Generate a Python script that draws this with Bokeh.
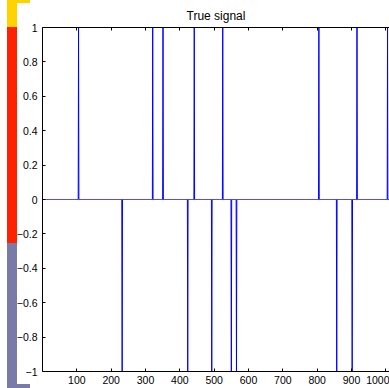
import numpy as np
from bokeh.plotting import figure
from bokeh.models import Range1d, FixedTicker, LinearAxis, InlineStyleSheet
from bokeh.embed import file_html
from bokeh.resources import INLINE

# ---- data ----
signal_length = 1024
spike_positions = [105, 232, 321, 351, 423, 442, 493, 525, 550, 565, 805, 857, 902, 916, 1005]
spike_values = [1, -1, 1, 1, -1, 1, -1, 1, -1, -1, 1, -1, -1, 1, 1]
x_ticks = [100, 200, 300, 400, 500, 600, 700, 800, 900, 1000]
y_ticks = [-1, -0.8, -0.6, -0.4, -0.2, 0, 0.2, 0.4, 0.6, 0.8, 1]
y_tick_labels = ["\u22121", "\u22120.8", "\u22120.6", "\u22120.4", "\u22120.2", "0",
                 "0.2", "0.4", "0.6", "0.8", "1"]

idx = np.arange(1, signal_length + 1)
signal = np.zeros(signal_length)
for pos, val in zip(spike_positions, spike_values):
    signal[pos - 1] = val

FONT = "Liberation Sans"

# decorative colour strip at the left edge, drawn as the figure's CSS background
strips = [
    (7, 0, 10, 27, "#FFD200"),
    (7, 0, 23, 3, "#FFD200"),
    (7, 27, 10, 216, "#FF2200"),
    (7, 243, 10, 145, "#7A7AA8"),
    (7, 384, 23, 4, "#7A7AA8"),
]
imgs = ", ".join(f"linear-gradient({c}, {c})" for *_, c in strips)
sizes = ", ".join(f"{w}px {h}px" for _, _, w, h, _ in strips)
posns = ", ".join(f"{x}px {y}px" for x, y, *_ in strips)
css = (":host { background-color: white; background-repeat: no-repeat; "
       f"background-image: {imgs}; background-size: {sizes}; background-position: {posns}; }}")

p = figure(width=389, height=388, output_backend="svg", toolbar_location=None,
           x_range=Range1d(0, 1010.7), y_range=Range1d(-1, 1),
           min_border_left=42, min_border_right=0, min_border_top=27, min_border_bottom=17,
           title="True signal")
p.stylesheets = [InlineStyleSheet(css=css)]
p.title.text_font = FONT
p.title.text_font_style = "normal"
p.title.text_font_size = "12px"
p.title.align = "center"
p.title.offset = 2
p.title.text_color = "#000000"

p.xgrid.visible = False
p.ygrid.visible = False
p.outline_line_color = None
p.background_fill_color = "white"
p.border_fill_color = None

p.line(idx, signal, line_color="#0000FF", line_width=1)

for ax in [p.xaxis[0], p.yaxis[0]]:
    ax.major_tick_in = 3
    ax.major_tick_out = 0
    ax.minor_tick_line_color = None
    ax.axis_line_color = "#000000"
    ax.major_tick_line_color = "#000000"
    ax.major_label_text_font = FONT
    ax.major_label_text_font_size = "10.5px"
    ax.major_label_text_color = "#000000"

p.xaxis[0].ticker = FixedTicker(ticks=x_ticks)
p.xaxis[0].major_label_standoff = 4
p.yaxis[0].ticker = FixedTicker(ticks=y_ticks)
p.yaxis[0].major_label_overrides = {t: l for t, l in zip(y_ticks, y_tick_labels)}
p.yaxis[0].major_label_standoff = 5

top_axis = LinearAxis(ticker=FixedTicker(ticks=x_ticks), major_tick_in=3, major_tick_out=0,
                      minor_tick_line_color=None,
                      major_label_overrides={t: "" for t in x_ticks},
                      major_label_standoff=0, axis_line_color="#000000",
                      major_tick_line_color="#000000")
p.add_layout(top_axis, "above")

open("out.html", "w").write(file_html(p, INLINE))
